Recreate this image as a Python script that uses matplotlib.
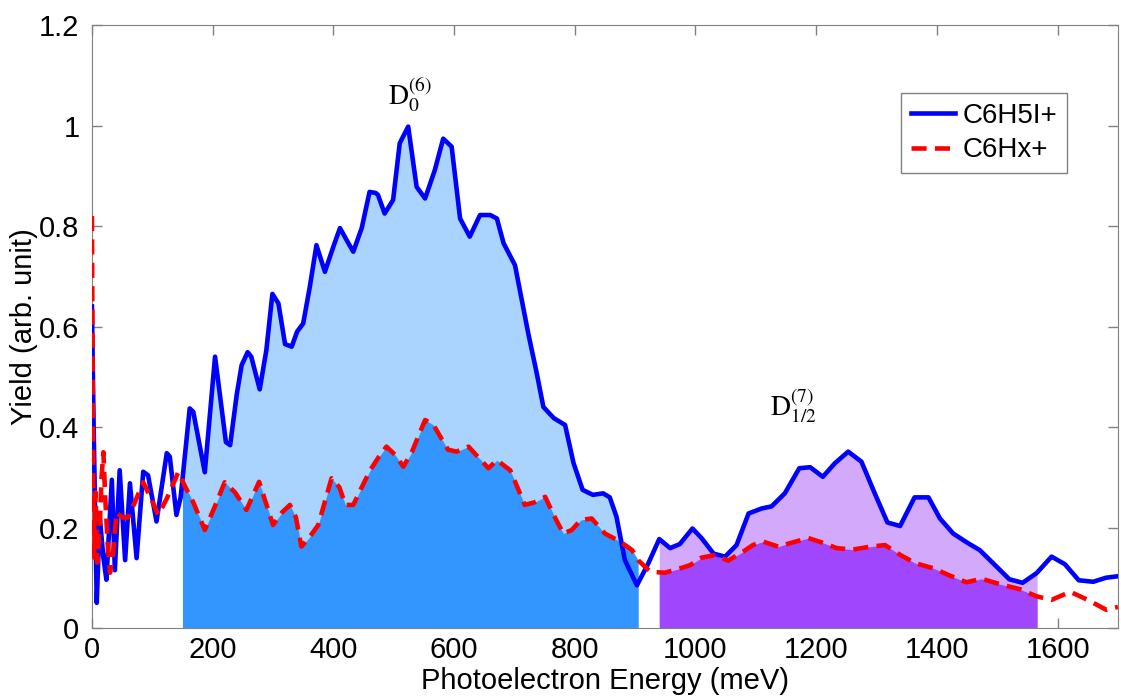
import numpy as np
from matplotlib import pyplot as plt

# datos (meV, rendimiento)
x_ion = [0, 3, 8, 13, 19, 24, 33, 38, 46, 55, 63, 74, 85, 93, 107, 124, 129, 140, 147,
         162, 168, 187, 204, 222, 229, 240, 248, 258, 264, 278, 289, 299, 309, 320, 331,
         340, 350, 361, 372, 386, 400, 411, 423, 433, 447, 460, 470, 474, 485, 499, 510,
         524, 538, 552, 568, 582, 596, 610, 626, 643, 660, 671, 682, 701, 723, 737, 748,
         765, 784, 798, 813, 830, 847, 858, 869, 883, 903, 922, 940, 958, 974, 995, 1010,
         1030, 1049, 1068, 1088, 1110, 1126, 1148, 1172, 1190, 1211, 1231, 1253, 1275,
         1297, 1318, 1339, 1363, 1386, 1405, 1427, 1450, 1471, 1499, 1520, 1542, 1565,
         1590, 1612, 1635, 1659, 1680, 1700]
y_ion = [0.64, 0.39, 0.05, 0.22, 0.14, 0.096, 0.295, 0.115, 0.314, 0.135, 0.288, 0.139,
         0.311, 0.304, 0.212, 0.348, 0.341, 0.225, 0.26, 0.437, 0.43, 0.31, 0.54, 0.37,
         0.364, 0.465, 0.523, 0.549, 0.54, 0.475, 0.553, 0.665, 0.646, 0.565, 0.56, 0.59,
         0.606, 0.679, 0.762, 0.709, 0.759, 0.796, 0.77, 0.749, 0.796, 0.868, 0.866, 0.862,
         0.825, 0.852, 0.965, 0.998, 0.878, 0.855, 0.911, 0.974, 0.958, 0.815, 0.779,
         0.822, 0.822, 0.815, 0.766, 0.722, 0.586, 0.507, 0.44, 0.418, 0.404, 0.328, 0.275,
         0.265, 0.268, 0.26, 0.222, 0.135, 0.085, 0.129, 0.177, 0.159, 0.167, 0.198, 0.179,
         0.148, 0.142, 0.165, 0.228, 0.238, 0.242, 0.268, 0.318, 0.32, 0.301, 0.328, 0.351,
         0.331, 0.268, 0.21, 0.203, 0.26, 0.26, 0.218, 0.188, 0.17, 0.155, 0.122, 0.097,
         0.09, 0.109, 0.142, 0.127, 0.095, 0.092, 0.1, 0.103]

x_frag = [0, 2, 4, 6, 9, 13, 16, 19, 22, 26, 30, 35, 41, 50, 60, 71, 85, 99, 110, 125,
          143, 155, 168, 187, 203, 220, 237, 256, 277, 300, 315, 328, 338, 347, 360, 375,
          397, 410, 420, 433, 447, 461, 475, 488, 502, 516, 530, 552, 566, 580, 590, 604,
          624, 640, 657, 671, 693, 705, 717, 733, 751, 765, 781, 795, 810, 828, 850, 875,
          895, 905, 925, 949, 970, 991, 1010, 1032, 1054, 1079, 1095, 1112, 1137, 1160,
          1187, 1210, 1234, 1260, 1290, 1314, 1340, 1364, 1394, 1420, 1449, 1474, 1505,
          1538, 1565, 1590, 1621, 1648, 1681, 1700]
y_frag = [0.82, 0.30, 0.14, 0.27, 0.13, 0.20, 0.30, 0.35, 0.26, 0.17, 0.11, 0.15, 0.23,
          0.22, 0.22, 0.25, 0.29, 0.255, 0.225, 0.26, 0.31, 0.28, 0.25, 0.195, 0.24, 0.29,
          0.27, 0.235, 0.291, 0.205, 0.23, 0.245, 0.22, 0.162, 0.18, 0.205, 0.298, 0.28,
          0.245, 0.245, 0.28, 0.314, 0.34, 0.361, 0.345, 0.321, 0.35, 0.414, 0.404, 0.375,
          0.355, 0.351, 0.361, 0.34, 0.318, 0.334, 0.314, 0.28, 0.245, 0.25, 0.261, 0.225,
          0.188, 0.195, 0.215, 0.218, 0.188, 0.172, 0.155, 0.135, 0.112, 0.11, 0.117, 0.125,
          0.14, 0.145, 0.134, 0.152, 0.165, 0.172, 0.162, 0.17, 0.179, 0.17, 0.159, 0.156,
          0.162, 0.165, 0.145, 0.129, 0.119, 0.105, 0.091, 0.098, 0.087, 0.077, 0.063,
          0.056, 0.072, 0.057, 0.036, 0.042]

# zonas sombreadas: (inicio, fin, color claro, color oscuro)
zonas = [(150, 905, "#aad4fd", "#3396ff"),
         (940, 1566, "#d3a9fb", "#a046fd")]

plt.rcParams['font.family'] = ['Liberation Sans', 'DejaVu Sans']
plt.rcParams['mathtext.fontset'] = 'stix'

fig, ax = plt.subplots(figsize=(11.21, 6.98), dpi=100)
fig.subplots_adjust(left=0.082, right=0.9973, bottom=0.1003, top=0.964)

for x0, x1, claro, oscuro in zonas:
    xx = np.linspace(x0, x1, 600)
    ax.fill_between(xx, 0, np.interp(xx, x_ion, y_ion), color=claro, lw=0, zorder=1)
    ax.fill_between(xx, 0, np.interp(xx, x_frag, y_frag), color=oscuro, lw=0, zorder=2)

ax.plot(x_ion, y_ion, color="#0000ff", lw=3.3, label="C6H5I+", zorder=3)
ax.plot(x_frag, y_frag, color="#ff0000", lw=3.3, dashes=(3.3, 1.8), label="C6Hx+", zorder=4)

ax.text(527, 1.041, r'$\mathrm{D}_0^{(6)}$', fontsize=20, ha='center', va='baseline')
ax.text(1162, 0.422, r'$\mathrm{D}_{1/2}^{(7)}$', fontsize=20, ha='center', va='baseline')

ax.set_xlim(0, 1700)
ax.set_ylim(0, 1.2)
ax.set_xticks(range(0, 1601, 200))
ax.set_yticks([0, 0.2, 0.4, 0.6, 0.8, 1, 1.2])
ax.set_yticklabels(["0", "0.2", "0.4", "0.6", "0.8", "1", "1.2"])
ax.tick_params(direction='in', top=True, right=True, length=7, width=1,
               color='#808080', labelsize=21)
ax.tick_params(axis='x', pad=6)
ax.tick_params(axis='y', pad=9)
for s in ax.spines.values():
    s.set_color('#808080')

ax.set_xlabel("Photoelectron Energy (meV)", fontsize=21, labelpad=2)
ax.set_ylabel("Yield (arb. unit)", fontsize=21, labelpad=1)

leg = ax.legend(loc='upper right', bbox_to_anchor=(0.950, 0.887), fontsize=20,
                fancybox=False, framealpha=1, edgecolor='#808080', handlelength=1.6,
                handletextpad=0.25, borderpad=0.35, labelspacing=0.3, borderaxespad=0)
leg.get_frame().set_linewidth(1)

plt.savefig("out.png")
